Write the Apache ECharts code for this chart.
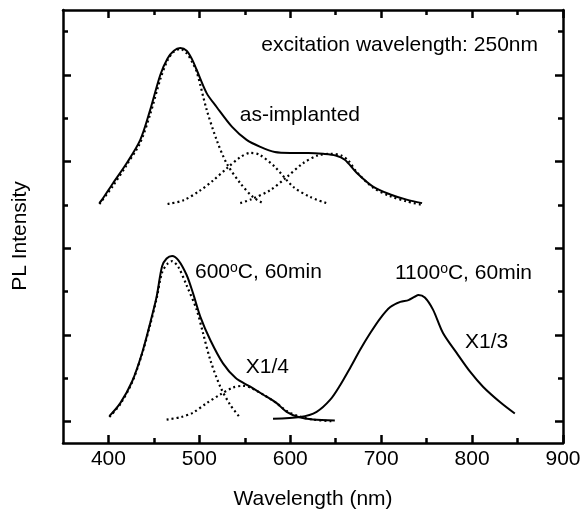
<!DOCTYPE html>
<html>
<head>
<meta charset="utf-8">
<script src="https://cdn.jsdelivr.net/npm/echarts@6/dist/echarts.min.js"></script>
<style>html,body{margin:0;padding:0;background:#fff;}#c{width:581px;height:510px;}</style>
</head>
<body>
<div id="c"></div>
<script>
// ---- data (wavelength nm, intensity arb. units) ----
const xMajorTicks = [400, 500, 600, 700, 800, 900];
const xMinorTicks = [450, 550, 650, 750, 850];
const yMajorTicks = [0, 1, 2, 3, 4];
const yMinorTicks = [0.5, 1.5, 2.5, 3.5, 4.5];

const asImplanted = [[390,2.52],[393,2.56],[405,2.75],[420,2.98],[435,3.25],[446,3.60],[457,4.00],[465,4.19],[472,4.28],[479,4.31],[486,4.28],[492,4.18],[497,4.06],[508,3.79],[519,3.63],[536,3.40],[552,3.25],[567,3.17],[583,3.11],[600,3.10],[620,3.10],[636,3.09],[650,3.07],[660,3.02],[673,2.87],[691,2.71],[710,2.62],[728,2.56],[745,2.52]];
const asGauss1 = [[390,2.51],[405,2.72],[420,2.96],[435,3.22],[446,3.55],[457,3.95],[465,4.17],[472,4.27],[479,4.30],[486,4.25],[492,4.15],[497,4.04],[508,3.60],[519,3.25],[530,2.98],[545,2.75],[559,2.59],[570,2.52]];
const asGauss2 = [[465,2.51],[482,2.55],[500,2.66],[515,2.78],[530,2.92],[545,3.05],[556,3.10],[566,3.08],[583,2.94],[603,2.71],[622,2.59],[640,2.52]];
const asGauss3 = [[545,2.52],[556,2.56],[578,2.67],[596,2.82],[614,2.98],[630,3.07],[645,3.09],[656,3.07],[664,3.01],[673,2.88],[691,2.70],[710,2.60],[728,2.54],[745,2.50]];

const anneal600 = [[401,0.06],[413,0.21],[426,0.46],[437,0.79],[446,1.14],[453,1.44],[459,1.79],[464,1.88],[470,1.91],[477,1.86],[486,1.69],[493,1.48],[501,1.21],[512,0.94],[526,0.67],[540,0.50],[556,0.40],[570,0.31],[585,0.21],[596,0.11],[609,0.05],[625,0.02],[649,0.01]];
const fit600a = [[401,0.05],[413,0.20],[426,0.45],[437,0.78],[446,1.12],[453,1.42],[459,1.72],[465,1.82],[470,1.85],[477,1.78],[486,1.57],[497,1.29],[504,1.02],[512,0.71],[523,0.40],[534,0.19],[545,0.04]];
const fit600b = [[464,0.02],[480,0.05],[493,0.10],[508,0.21],[523,0.31],[537,0.39],[548,0.41],[556,0.39],[570,0.31],[585,0.21],[596,0.12],[609,0.06],[625,0.02],[648,0.00]];
const anneal1100 = [[581,0.03],[611,0.05],[629,0.11],[644,0.25],[655,0.42],[666,0.62],[677,0.83],[688,1.02],[699,1.19],[710,1.32],[721,1.38],[730,1.40],[737,1.44],[741,1.46],[748,1.43],[757,1.29],[768,1.02],[783,0.79],[798,0.57],[812,0.40],[831,0.22],[847,0.09]];

const FONT = '"Liberation Sans", Arial, sans-serif';
const INK = '#000';

function xAx(pos, vals, len, showLine, withLabel) {
  return {
    type: 'value', min: 350, max: 900, position: pos, gridIndex: 0,
    axisLine: { show: showLine, onZero: false, lineStyle: { color: INK, width: 2.5 } },
    axisTick: { show: true, inside: true, length: len, customValues: vals, lineStyle: { color: INK, width: 2.5 } },
    axisLabel: withLabel ? { show: true, customValues: xMajorTicks, color: INK, fontSize: 21, fontFamily: FONT, margin: 6 } : { show: false },
    splitLine: { show: false },
    name: withLabel ? 'Wavelength (nm)' : '',
    nameLocation: 'middle', nameGap: 46,
    nameTextStyle: { color: INK, fontSize: 21, fontFamily: FONT }
  };
}
function yAx(pos, vals, len, showLine) {
  return {
    type: 'value', min: -0.25, max: 4.75, position: pos, gridIndex: 0,
    axisLine: { show: showLine, onZero: false, lineStyle: { color: INK, width: 2.5 } },
    axisTick: { show: true, inside: true, length: len, customValues: vals, lineStyle: { color: INK, width: 2.5 } },
    axisLabel: { show: false },
    splitLine: { show: false }
  };
}
function line(data, dotted) {
  return {
    type: 'line', data: data, xAxisIndex: 0, yAxisIndex: 0,
    showSymbol: false, smooth: 0.3, silent: true,
    lineStyle: { color: INK, width: dotted ? 2.2 : 2, type: dotted ? [2, 3] : 'solid' }
  };
}

const chart = echarts.init(document.getElementById('c'), null, { renderer: 'canvas' });
function txt(t, x, y, align, rot) {
  return { type: 'text', x: x, y: y, rotation: rot || 0, style: { text: t, fill: INK, fontSize: 21, fontFamily: FONT, align: align || 'left', verticalAlign: 'middle', lineHeight: 22, rich: { s: { fontSize: 14, fontFamily: FONT, fill: INK, verticalAlign: 'top', lineHeight: 22, padding: [0, 0, 8, 0] } } } };
}
chart.setOption({
  animation: false,
  backgroundColor: '#fff',
  grid: { left: 63, right: 18, top: 10, bottom: 67, containLabel: false, outerBoundsMode: 'none' },
  xAxis: [
    xAx('bottom', xMajorTicks, 8, true, true),
    xAx('bottom', xMinorTicks, 5, false, false),
    xAx('top', xMajorTicks, 8, true, false),
    xAx('top', xMinorTicks, 5, false, false)
  ],
  yAxis: [
    yAx('left', yMajorTicks, 8, true),
    yAx('left', yMinorTicks, 5, false),
    yAx('right', yMajorTicks, 8, true),
    yAx('right', yMinorTicks, 5, false)
  ],
  series: [
    line(asImplanted, false),
    line(asGauss1, true),
    line(asGauss2, true),
    line(asGauss3, true),
    line(anneal600, false),
    line(fit600a, true),
    line(fit600b, true),
    line(anneal1100, false)
  ],
  graphic: [
    txt('PL Intensity', 20, 236, 'center', Math.PI / 2),
    txt('excitation wavelength: 250nm', 538, 45, 'right'),
    txt('as-implanted', 360, 115, 'right'),
    txt('600{s|o}C, 60min', 195, 272, 'left'),
    txt('1100{s|o}C, 60min', 395, 273, 'left'),
    txt('X1/4', 289, 367, 'right'),
    txt('X1/3', 465, 342, 'left')
  ]
});
</script>
</body>
</html>
